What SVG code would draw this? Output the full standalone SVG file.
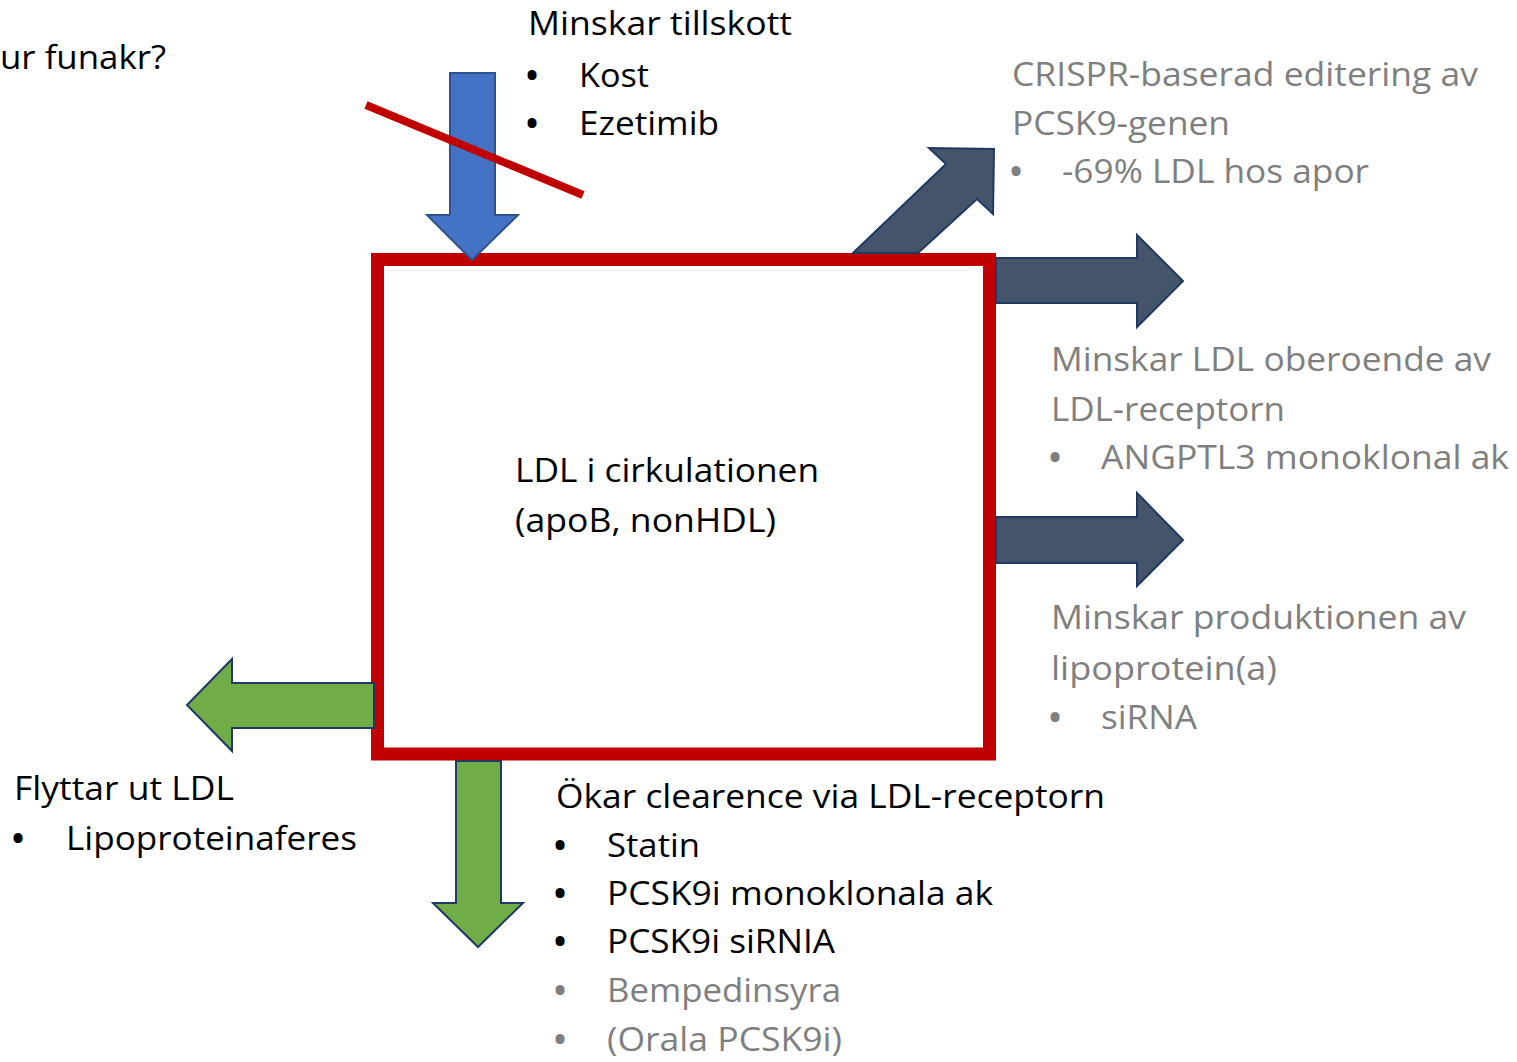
<svg xmlns="http://www.w3.org/2000/svg" width="1517" height="1062" viewBox="0 0 1517 1062">
<style>
.t{font-family:"Open Sans","Liberation Sans",sans-serif;font-size:32px;fill:#000}
.g{font-family:"Open Sans","Liberation Sans",sans-serif;font-size:33px;fill:#7f7f7f}
.gb{font-family:"Open Sans","Liberation Sans",sans-serif;font-size:32px;fill:#7f7f7f}
.b{font-family:"Open Sans","Liberation Sans",sans-serif;font-size:32px;font-weight:bold}
.dark{fill:#44546a;stroke:#1f3864;stroke-width:2}
.green{fill:#70ad47;stroke:#1f3864;stroke-width:2}
.blue{fill:#4472c4;stroke:#2f528f;stroke-width:2}
</style>
<rect width="1517" height="1062" fill="#fff"/>
<g id="ldl-box">
  <rect x="377.5" y="259.5" width="612" height="494.5" fill="none" stroke="#c00000" stroke-width="13"/>
  <text class="t" x="515" y="482" textLength="304" lengthAdjust="spacingAndGlyphs">LDL i cirkulationen</text>
  <text class="t" x="515" y="532" textLength="261" lengthAdjust="spacingAndGlyphs">(apoB, nonHDL)</text>
</g>
<g id="connectors">
  <polygon id="arrow-in" class="blue" points="450,73 495,73 495,215 518,215 472,260 427,215 450,215"/>
  <polygon id="arrow-diag" class="dark" points="853,253 946,164 929,148 994,149 993,214 977,199 918,253"/>
  <polygon id="arrow-right1" class="dark" points="996,258 1137,258 1137,235 1183,281 1137,327 1137,303 996,303"/>
  <polygon id="arrow-right2" class="dark" points="996,517 1137,517 1137,493 1183,540 1137,586 1137,563 996,563"/>
  <polygon id="arrow-left" class="green" points="374,683 232,683 232,659 187,705 232,751 232,728 374,728"/>
  <polygon id="arrow-down" class="green" points="456,761 501,761 501,903 523,903 478,947 433,903 456,903"/>
  <line id="strike" x1="366" y1="105" x2="583" y2="195" stroke="#c00000" stroke-width="8"/>
</g>
<g id="question">
  <text class="t" x="0" y="69" textLength="166" lengthAdjust="spacingAndGlyphs">ur funakr?</text>
</g>
<g id="intake">
  <text class="t" x="528" y="35" textLength="264" lengthAdjust="spacingAndGlyphs">Minskar tillskott</text>
  <text class="b" x="526" y="87" fill="#000">•</text>
  <text class="t" x="579" y="87" textLength="70" lengthAdjust="spacingAndGlyphs">Kost</text>
  <text class="b" x="526" y="135" fill="#000">•</text>
  <text class="t" x="579" y="135" textLength="140" lengthAdjust="spacingAndGlyphs">Ezetimib</text>
</g>
<g id="crispr">
  <text class="g" x="1012" y="86" textLength="466" lengthAdjust="spacingAndGlyphs">CRISPR-baserad editering av</text>
  <text class="g" x="1012" y="135" textLength="218" lengthAdjust="spacingAndGlyphs">PCSK9-genen</text>
  <text class="b" x="1010" y="183" fill="#7f7f7f">•</text>
  <text class="g" x="1062" y="183" textLength="307" lengthAdjust="spacingAndGlyphs">-69% LDL hos apor</text>
</g>
<g id="angptl3">
  <text class="g" x="1051" y="371" textLength="440" lengthAdjust="spacingAndGlyphs">Minskar LDL oberoende av</text>
  <text class="g" x="1051" y="421" textLength="234" lengthAdjust="spacingAndGlyphs">LDL-receptorn</text>
  <text class="b" x="1049" y="469" fill="#7f7f7f">•</text>
  <text class="g" x="1101" y="469" textLength="408" lengthAdjust="spacingAndGlyphs">ANGPTL3 monoklonal ak</text>
</g>
<g id="lpa">
  <text class="g" x="1051" y="629" textLength="415" lengthAdjust="spacingAndGlyphs">Minskar produktionen av</text>
  <text class="g" x="1051" y="680" textLength="226" lengthAdjust="spacingAndGlyphs">lipoprotein(a)</text>
  <text class="b" x="1049" y="729" fill="#7f7f7f">•</text>
  <text class="g" x="1101" y="729" textLength="96" lengthAdjust="spacingAndGlyphs">siRNA</text>
</g>
<g id="apheresis">
  <text class="t" x="14" y="800" textLength="220" lengthAdjust="spacingAndGlyphs">Flyttar ut LDL</text>
  <text class="b" x="12" y="850" fill="#000">•</text>
  <text class="t" x="66" y="850" textLength="291" lengthAdjust="spacingAndGlyphs">Lipoproteinaferes</text>
</g>
<g id="clearance">
  <text class="t" x="556" y="808" textLength="549" lengthAdjust="spacingAndGlyphs">Ökar clearence via LDL-receptorn</text>
  <text class="b" x="554" y="857" fill="#000">•</text>
  <text class="t" x="607" y="857" textLength="93" lengthAdjust="spacingAndGlyphs">Statin</text>
  <text class="b" x="554" y="905" fill="#000">•</text>
  <text class="t" x="607" y="905" textLength="386" lengthAdjust="spacingAndGlyphs">PCSK9i monoklonala ak</text>
  <text class="b" x="554" y="953" fill="#000">•</text>
  <text class="t" x="607" y="953" textLength="228" lengthAdjust="spacingAndGlyphs">PCSK9i siRNIA</text>
  <text class="b" x="554" y="1002" fill="#7f7f7f">•</text>
  <text class="gb" x="607" y="1002" textLength="234" lengthAdjust="spacingAndGlyphs">Bempedinsyra</text>
  <text class="b" x="554" y="1051" fill="#7f7f7f">•</text>
  <text class="gb" x="607" y="1051" textLength="235" lengthAdjust="spacingAndGlyphs">(Orala PCSK9i)</text>
</g>
</svg>
